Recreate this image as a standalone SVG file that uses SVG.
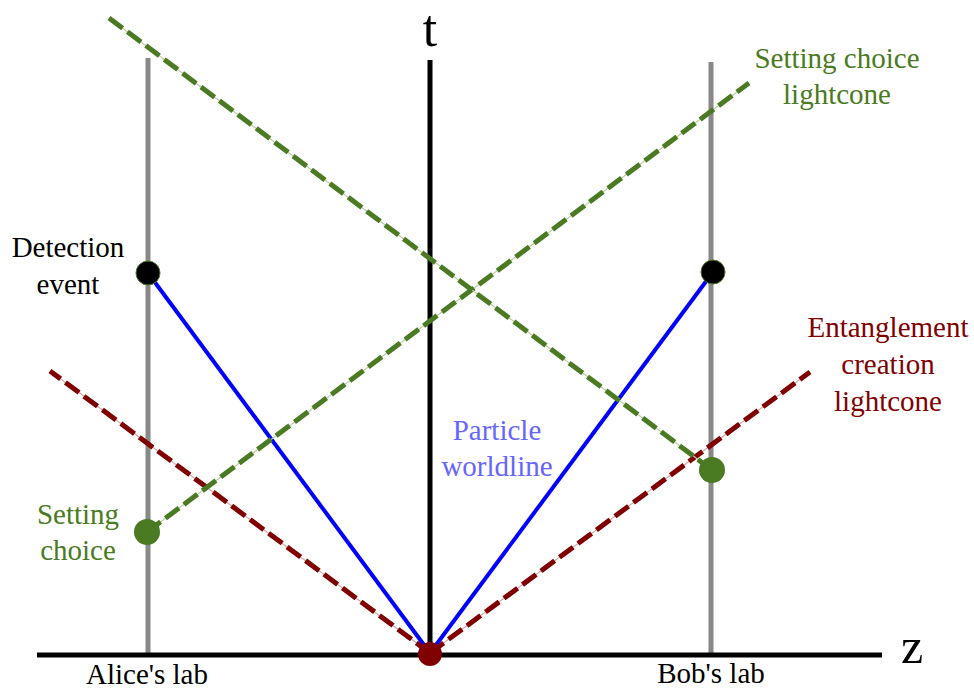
<svg xmlns="http://www.w3.org/2000/svg" width="974" height="689" viewBox="0 0 974 689">
<style>
text{font-family:"Liberation Serif","Times New Roman",serif;font-size:29px;text-anchor:middle}
.lab{stroke:#888;stroke-width:5;fill:none}
.axis{stroke:#000;stroke-width:5;fill:none}
.wl{stroke:#0000ff;stroke-width:4;fill:none}
.gU{stroke:#b9d0a3;stroke-width:1.2;fill:none}
.gD{stroke:#4a7a22;stroke-width:5;stroke-dasharray:17 6;fill:none}
.rU{stroke:#d9aaaa;stroke-width:1.2;fill:none}
.rD{stroke:#800000;stroke-width:5;stroke-dasharray:17 6;fill:none}
.green{fill:#4a7a22}
.red{fill:#800000}
</style>
<rect width="974" height="689" fill="#fff"/>
<g id="axes">
<line class="lab" x1="148" y1="58" x2="148" y2="655"/>
<line class="lab" x1="711" y1="62" x2="711" y2="655"/>
<line class="axis" x1="430" y1="60" x2="430" y2="655"/>
<line class="axis" x1="37" y1="655" x2="882" y2="655"/>
<text x="430" y="46" style="font-size:52px">t</text>
<text x="912" y="663" style="font-size:50px">z</text>
<text x="147" y="684">Alice's lab</text>
<text x="711" y="683">Bob's lab</text>
</g>
<g id="connectors">
<line class="wl" x1="430" y1="653" x2="148" y2="273"/>
<line class="wl" x1="430" y1="653" x2="713" y2="272"/>
<line class="rU" x1="430" y1="653" x2="50" y2="371"/>
<line class="rD" x1="430" y1="653" x2="50" y2="371"/>
<line class="rU" x1="430" y1="653" x2="810" y2="372"/>
<line class="rD" x1="430" y1="653" x2="810" y2="372"/>
<line class="gU" x1="147" y1="532" x2="749" y2="83"/>
<line class="gD" x1="147" y1="532" x2="749" y2="83"/>
<line class="gU" x1="109" y1="18" x2="712" y2="470"/>
<line class="gD" x1="109" y1="18" x2="712" y2="470"/>
</g>
<g id="alice-detection">
<circle cx="148" cy="273" r="12" fill="#000" stroke="#4a7a22" stroke-width="1"/>
<text x="68" y="257">Detection</text>
<text x="68" y="294">event</text>
</g>
<g id="bob-detection">
<circle cx="713" cy="272" r="12" fill="#000" stroke="#4a7a22" stroke-width="1"/>
</g>
<g id="alice-setting">
<circle class="green" cx="147" cy="532" r="13"/>
<text class="green" x="78" y="524">Setting</text>
<text class="green" x="78" y="560">choice</text>
</g>
<g id="bob-setting">
<circle class="green" cx="712" cy="470" r="13"/>
</g>
<g id="source">
<circle class="red" cx="430" cy="654" r="12"/>
</g>
<g id="label-worldline">
<text x="497" y="440" fill="#6666ff">Particle</text>
<text x="497" y="476" fill="#6666ff">worldline</text>
</g>
<g id="label-setting-lightcone">
<text class="green" x="837" y="68">Setting choice</text>
<text class="green" x="837" y="104">lightcone</text>
</g>
<g id="label-entanglement-lightcone">
<text class="red" x="888" y="337">Entanglement</text>
<text class="red" x="888" y="374">creation</text>
<text class="red" x="888" y="411">lightcone</text>
</g>
</svg>
